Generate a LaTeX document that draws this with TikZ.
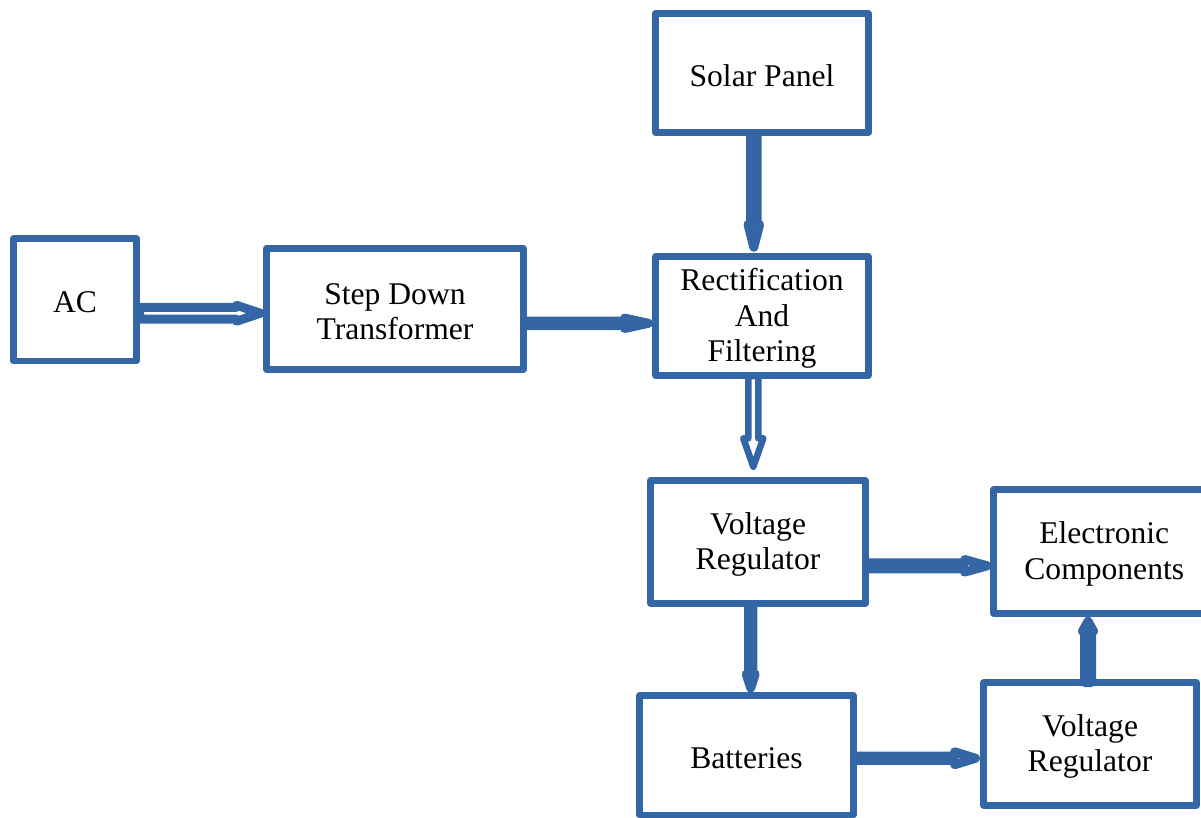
\documentclass[tikz,border=0pt]{standalone}
\usepackage{fontspec}
\setmainfont{Liberation Serif}
\usetikzlibrary{calc}
\definecolor{boxblue}{HTML}{3465A4}
\tikzset{
  blockbox/.style={draw=boxblue, line width=6.5pt, line join=round, inner sep=0pt,
    outer sep=0pt},
  boxtext/.style={label={[align=center, font=\fontsize{31.6}{35.5}\selectfont, text=black,
    inner sep=0pt, yshift=-2.5pt]center:#1}},
  blockarrow/.style n args={4}{draw=boxblue, line width=#1pt, line join=round, to path={
    ($(\tikztostart)!#2pt!90:(\tikztotarget)$)
    -- ($(\tikztotarget)!#4pt!(\tikztostart)!#2pt!-90:(\tikztostart)$)
    -- ($(\tikztotarget)!#4pt!(\tikztostart)!#3pt!-90:(\tikztostart)$)
    -- (\tikztotarget)
    -- ($(\tikztotarget)!#4pt!(\tikztostart)!#3pt!90:(\tikztostart)$)
    -- ($(\tikztotarget)!#4pt!(\tikztostart)!#2pt!90:(\tikztostart)$)
    -- ($(\tikztostart)!#2pt!-90:(\tikztotarget)$)
    -- cycle}},
}
\begin{document}
\begin{tikzpicture}[x=1pt, y=-1pt]
\useasboundingbox (0,0) rectangle (1201,818);
\node[blockbox, minimum width=123pt, minimum height=122.5pt, boxtext={AC}] (ac) at (75,299.75) {};
\node[blockbox, minimum width=257pt, minimum height=121pt, boxtext={Step Down\\Transformer}] (sd) at (395,309) {};
\node[blockbox, minimum width=213pt, minimum height=119pt, boxtext={Solar Panel}] (sp) at (762,73) {};
\node[blockbox, minimum width=213pt, minimum height=119pt, boxtext={Rectification\\And\\Filtering}] (rf) at (762,316) {};
\node[blockbox, minimum width=215pt, minimum height=123pt, boxtext={Voltage\\Regulator}] (vr1) at (758,542) {};
\node[blockbox, minimum width=221.5pt, minimum height=124pt, boxtext={Electronic\\Components}] (ec) at (1104.25,551.5) {};
\node[blockbox, minimum width=214pt, minimum height=119.5pt, boxtext={Batteries}] (bt) at (746.5,755.25) {};
\node[blockbox, minimum width=213pt, minimum height=123pt, boxtext={Voltage\\Regulator}] (vr2) at (1090,744) {};

\draw[blockarrow={9}{5.9}{8}{24}] ($(ac.east)+(3pt,-13.5pt)$) to ($(ac.east -| sd.west)+(-6pt,-13.5pt)$);
\draw[blockarrow={9}{2.2}{5.2}{24}] ($(sd.east)+(3pt,-14.3pt)$) to ($(sd.east -| rf.west)+(-7pt,-14.3pt)$);
\draw[blockarrow={9}{3.3}{5.8}{22.7}] ($(sp.south)+(-8.2pt,-3.5pt)$) to ($(sp.south |- rf.north)+(-8.2pt,9.3pt)$);
\draw[blockarrow={6.6}{5}{10}{28.4}] ($(rf.south)+(-8.7pt,-0.5pt)$) to ($(rf.south |- vr1.north)+(-8.7pt,13.8pt)$);
\draw[blockarrow={9}{2.2}{4.5}{14}] ($(vr1.south)+(-7.3pt,-2.5pt)$) to ($(vr1.south |- bt.north)+(-7.3pt,7.5pt)$);
\draw[blockarrow={9}{3}{6.3}{22.7}] ($(vr1.east)+(3pt,-23.8pt)$) to ($(vr1.east -| ec.west)+(-6.3pt,-23.8pt)$);
\draw[blockarrow={9}{3.5}{5.5}{10}] ($(vr2.north)+(-2pt,0pt)$) to ($(vr2.north |- ec.south)+(-2pt,-7.7pt)$);
\draw[blockarrow={9}{2.2}{6.5}{21}] ($(bt.east)+(3pt,-3pt)$) to ($(bt.east -| vr2.west)+(-8pt,-3pt)$);
\end{tikzpicture}
\end{document}
